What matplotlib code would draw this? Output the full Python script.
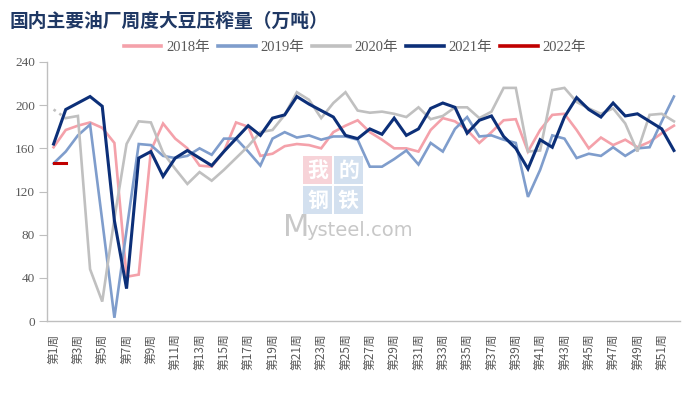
import matplotlib
matplotlib.use("Agg")
import matplotlib.pyplot as plt
from matplotlib.patches import Rectangle

weeks = [f"第{i}周" for i in range(1, 53)]

s2018 = [161, 177, 181, 184, 179, 165, 41, 43, 158, 183, 169, 160, 144, 143, 157, 184, 180, 153, 155, 162,
         164, 163, 160, 175, 181, 186, 175, 168, 160, 160, 157, 177, 188, 185, 177, 165, 175, 186, 187, 157,
         177, 191, 192, 177, 160, 170, 163, 168, 161, 166, 174, 181]
s2019 = [146, 157, 172, 182, 93, 3, 84, 164, 163, 153, 151, 153, 160, 154, 169, 169, 157, 144, 169, 175,
         170, 172, 168, 171, 171, 168, 143, 143, 150, 158, 145, 165, 157, 178, 189, 171, 172, 168, 165, 115,
         140, 172, 169, 151, 155, 153, 161, 153, 160, 161, 185, 208]
s2020 = [196, 188, 190, 48, 18, 95, 164, 185, 184, 156, 141, 127, 138, 130, 140, 151, 162, 175, 177, 191,
         212, 205, 188, 202, 212, 195, 193, 194, 192, 189, 198, 187, 190, 198, 198, 188, 194, 216, 216, 157,
         158, 214, 216, 203, 197, 192, 197, 183, 157, 191, 192, 185]
s2021 = [164, 196, 202, 208, 199, 93, 30, 151, 157, 134, 151, 158, 151, 144, 157, 169, 181, 172, 188, 191,
         208, 201, 195, 189, 172, 169, 178, 173, 188, 172, 178, 197, 202, 198, 174, 186, 190, 171, 160, 141,
         168, 161, 189, 207, 196, 189, 202, 190, 192, 185, 178, 158]
s2022 = [146, 146]

series_names = ["2018年", "2019年", "2020年", "2021年", "2022年"]
colors = ["#f4a1aa", "#7f9dcc", "#c0c0c0", "#0c2f78", "#c00000"]

W, H = 700, 396
fig = plt.figure(figsize=(W / 100, H / 100), dpi=100)
ax = fig.add_axes([47.5 / W, (H - 321) / H, (680 - 47.5) / W, (321 - 62) / H])

x = list(range(52))
lw = 1.9
ax.plot(x, s2018, color=colors[0], lw=lw, label=series_names[0], zorder=2, solid_joinstyle="miter")
ax.plot(x, s2019, color=colors[1], lw=lw, label=series_names[1], zorder=2.1, solid_joinstyle="miter")
ax.plot(x[1:], s2020[1:], color=colors[2], lw=lw, label=series_names[2], zorder=2.2, solid_joinstyle="miter")
ax.plot(x[:2], s2020[:2], color=colors[2], lw=lw, ls=":", zorder=2.2)
ax.plot(x, s2021, color=colors[3], lw=2.2, label=series_names[3], zorder=2.3, solid_joinstyle="miter")
ax.plot(x[:len(s2022)], s2022, color=colors[4], lw=2.2, label=series_names[4], zorder=2.4)

ax.set_xlim(-0.5, 51.5)
ax.set_ylim(0, 240)
ax.set_yticks(range(0, 241, 40))
ax.set_xticks(x[::2])
ax.set_xticklabels(weeks[::2], rotation=90, fontsize=8.5,
                   family=["Noto Sans CJK SC", "DejaVu Sans"], color="#595959")
for t in ax.get_yticklabels():
    t.set_family(["Liberation Serif", "DejaVu Serif"])
    t.set_fontsize(9.5)
    t.set_color("#595959")
ax.tick_params(axis="y", length=6, color="#bfbfbf", pad=3)
ax.tick_params(axis="x", length=0, pad=9)
for s in ["top", "right"]:
    ax.spines[s].set_visible(False)
for s in ["left", "bottom"]:
    ax.spines[s].set_color("#bfbfbf")
    ax.spines[s].set_linewidth(1.0)

leg = fig.legend(loc="center", bbox_to_anchor=(355 / W, 1 - 47 / H), ncol=5, frameon=False,
                 prop={"family": ["Liberation Serif", "Noto Sans CJK SC"], "size": 10.5},
                 handlelength=2.6, handletextpad=0.35, columnspacing=0.5)
for t in leg.get_texts():
    t.set_color("#595959")
for l in leg.get_lines():
    l.set_linewidth(2.6)

fig.text(10 / W, 1 - 21 / H, "国内主要油厂周度大豆压榨量（万吨）", fontsize=13.5, fontweight="bold",
         color="#1f3864", va="center", ha="left", family=["Noto Sans CJK SC", "DejaVu Sans"])

# watermark
boxes = [("我", 303, 156, "#f6c9cf"), ("的", 334, 156, "#c9d9ec"),
         ("钢", 303, 186, "#c9d9ec"), ("铁", 334, 186, "#c9d9ec")]
for ch, bx, by, bc in boxes:
    fig.patches.append(Rectangle((bx / W, 1 - (by + 28) / H), 29 / W, 28 / H,
                                 transform=fig.transFigure, facecolor=bc, edgecolor="none",
                                 alpha=0.8, zorder=0.5))
    fig.text((bx + 14.5) / W, 1 - (by + 14) / H, ch, fontsize=15, color="white", ha="center",
             va="center", fontweight="bold", family=["Noto Sans CJK SC"], zorder=0.6)
fig.text(283 / W, 1 - 227 / H, "M", fontsize=22, color="#c8c8c8", ha="left", va="center",
         family=["DejaVu Sans"], zorder=0.6)
fig.text(306 / W, 1 - 230 / H, "ysteel.com", fontsize=14, color="#c8c8c8", ha="left", va="center",
         family=["DejaVu Sans"], zorder=0.6)

fig.savefig("out.png", dpi=100)
